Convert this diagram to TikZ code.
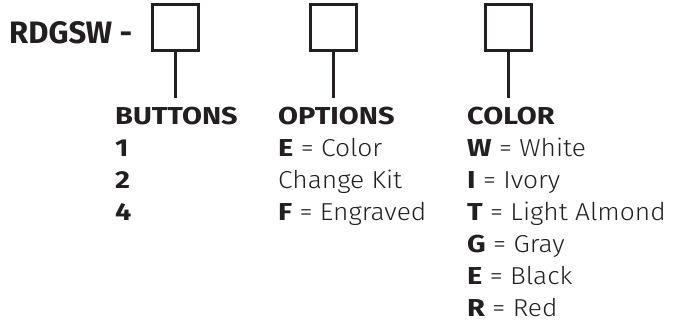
\documentclass[tikz,border=0pt]{standalone}
\usepackage{fontspec}
\setmainfont{Fira Sans Light}[FakeStretch=1.075, BoldFont={Fira Sans Bold}, BoldFeatures={FakeStretch=1.18}]
\newfontfamily\titlefont{Fira Sans Bold}
\definecolor{ink}{HTML}{231F20}
\begin{document}
\begin{tikzpicture}[x=1pt,y=-1pt,
  every node/.style={text=ink},
  txt/.style={anchor=base west, inner sep=0pt, font=\fontsize{24.5}{28}\selectfont},
  head/.style={anchor=base west, inner sep=0pt, font=\fontsize{24.5}{28}\selectfont\bfseries},
  title/.style={anchor=base west, inner sep=0pt, font=\fontsize{31}{36}\selectfont\titlefont},
  slot/.style={draw=ink, line width=2.2pt, minimum width=46pt, minimum height=46pt, inner sep=0pt},
  stem/.style={draw=ink, line width=2.2pt}]
\useasboundingbox (0,0) rectangle (673,322);
\node[title] (t) at (9,43.3) {RDGSW -};
\node[slot] (b1) at (175.5,27.5) {};
\node[slot] (b2) at (333.5,27.5) {};
\node[slot] (b3) at (508.5,27.5) {};
\coordinate (e1) at (175.5,98);
\coordinate (e2) at (333.5,98);
\coordinate (e3) at (508.5,98);
\draw[stem] (b1.south) -- (e1);
\draw[stem] (b2.south) -- (e2);
\draw[stem] (b3.south) -- (e3);
\node[head] (h1) at (115,124.3) {BUTTONS};
\node[head] (h2) at (278,124.3) {OPTIONS};
\node[head] (h3) at (467,124.3) {COLOR};
\node[txt] (a1) at (115,156.5) {\textbf{1}};
\node[txt] (a2) at (115,188.5) {\textbf{2}};
\node[txt] (a3) at (115,220.5) {\textbf{4}};
\node[txt] (o1) at (278,156.5) {\textbf{E} = Color};
\node[txt] (o2) at (278,188.5) {Change Kit};
\node[txt] (o3) at (278,220.5) {\textbf{F} = Engraved};
\node[txt] (c1) at (467,156.5) {\textbf{W} = White};
\node[txt] (c2) at (467,188.5) {\textbf{I} = Ivory};
\node[txt] (c3) at (467,220.5) {\textbf{T} = Light Almond};
\node[txt] (c4) at (467,252.5) {\textbf{G} = Gray};
\node[txt] (c5) at (467,284.5) {\textbf{E} = Black};
\node[txt] (c6) at (467,316.5) {\textbf{R} = Red};
\end{tikzpicture}
\end{document}
